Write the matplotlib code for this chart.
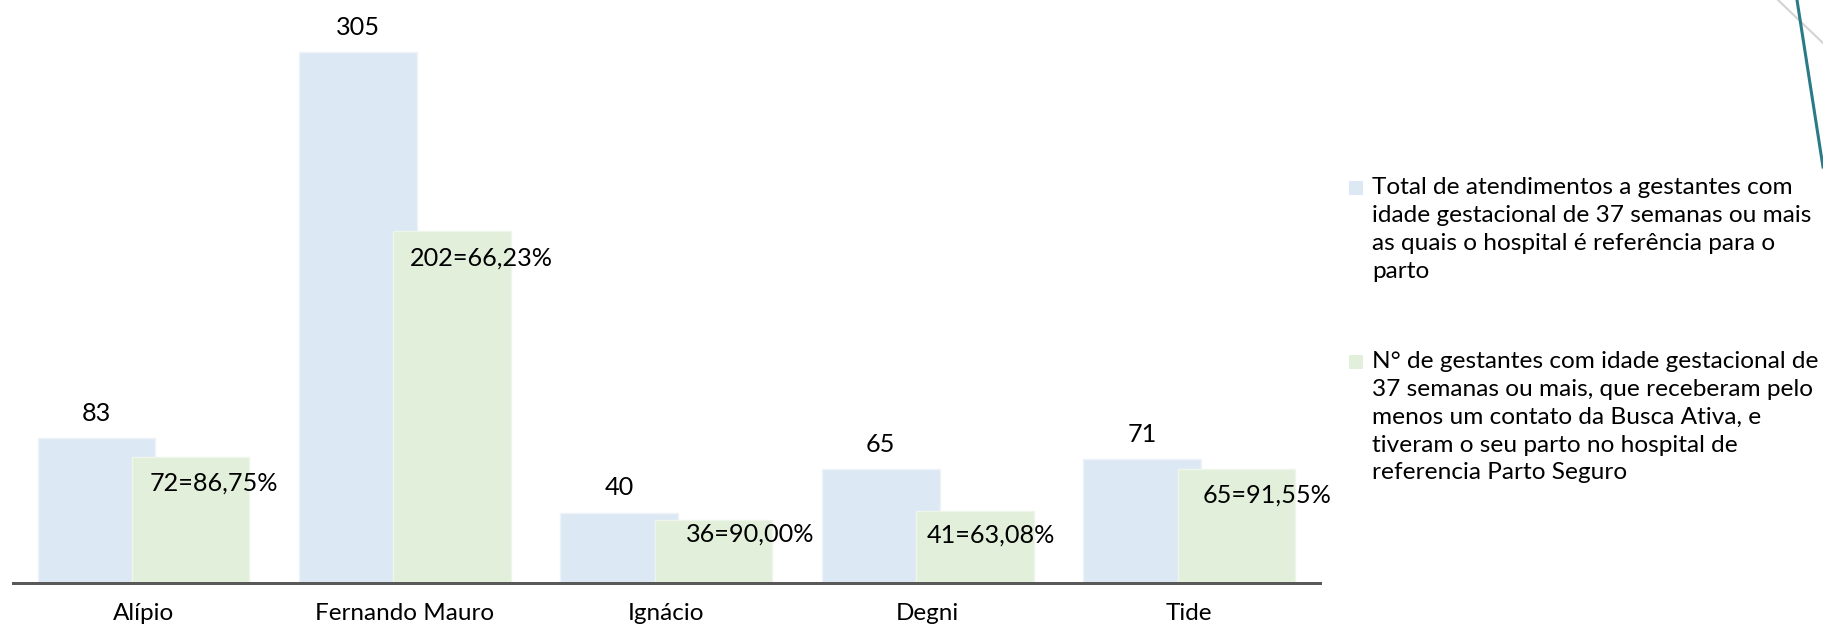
import matplotlib
matplotlib.use("Agg")
import matplotlib.pyplot as plt
import numpy as np
from matplotlib.patches import Rectangle
from matplotlib.lines import Line2D

# ---- data ----
categories = ["Alípio", "Fernando Mauro", "Ignácio", "Degni", "Tide"]
total_atendimentos = [83, 305, 40, 65, 71]
gestantes_busca_ativa = [72, 202, 36, 41, 65]
legend_labels = [
    ["Total de atendimentos a gestantes com",
     "idade gestacional de 37 semanas ou mais",
     "as quais o hospital é referência para o",
     "parto"],
    ["N° de gestantes com idade gestacional de",
     "37 semanas ou mais, que receberam pelo",
     "menos um contato da Busca Ativa, e",
     "tiveram o seu parto no hospital de",
     "referencia Parto Seguro"],
]

# ---- style ----
W, H = 1823, 626
DPI = 100
blue = "#DDE8F5"
green = "#E2EFDA"
axis_col = "#595959"
font = "Lato"
fs = 17.5
val_fs = 18.2
pt = 72.0 / DPI  # points per pixel

# nudges (pixels) for the green labels: (dx from bar left, dy below bar top)
green_nudges = [(18, 26), (17, 27), (31, 14), (11, 24), (25, 26)]

fig = plt.figure(figsize=(W / DPI, H / DPI), dpi=DPI)
left_px, right_px = 12.75, 1320
bottom_px = 626 - 582.5
ax = fig.add_axes([left_px / W, bottom_px / H, (right_px - left_px) / W, 1 - bottom_px / H])

x = np.arange(len(categories))
off = 0.18
bw = 0.45
b1 = ax.bar(x - off, total_atendimentos, bw, color=blue, edgecolor="#EEF3FA", linewidth=1, zorder=2)
b2 = ax.bar(x + off, gestantes_busca_ativa, bw, color=green, edgecolor="#EEF5EA", linewidth=1, zorder=3)

ax.set_xlim(-0.5, len(categories) - 0.5)
ax.set_ylim(0, 335)
ax.set_yticks([])
ax.set_xticks(x)
ax.set_xticklabels(categories, fontfamily=font, fontsize=fs)
ax.tick_params(axis="x", length=0, pad=15)
for s in ["top", "left", "right"]:
    ax.spines[s].set_visible(False)
ax.spines["bottom"].set_color(axis_col)
ax.spines["bottom"].set_linewidth(3 * pt)
ax.spines["bottom"].set_zorder(5)

for rect, v in zip(b1, total_atendimentos):
    ax.annotate(f"{v}", (rect.get_x() + rect.get_width() / 2, rect.get_height()),
                xytext=(0, 25 * pt), textcoords="offset points",
                ha="center", va="center", fontfamily=font, fontsize=val_fs, zorder=6)

for rect, g, t, (dx, dy) in zip(b2, gestantes_busca_ativa, total_atendimentos, green_nudges):
    lab = f"{g}={g / t * 100:.2f}%".replace(".", ",")
    ax.annotate(lab, (rect.get_x(), rect.get_height()),
                xytext=(dx * pt, -dy * pt), textcoords="offset points",
                ha="left", va="center", fontfamily=font, fontsize=val_fs, zorder=6)

# ---- legend (manual) ----
leg_fs = 17.6
line_h = 27.7
starts = [188, 362]
for lines, y0, col in zip(legend_labels, starts, [blue, green]):
    fig.patches.append(Rectangle((1349 / W, 1 - (y0 + 7) / H), 14 / W, 14 / H,
                                 transform=fig.transFigure, facecolor=col, edgecolor="none"))
    for k, ln in enumerate(lines):
        fig.text(1372 / W, 1 - (y0 + k * line_h) / H, ln, ha="left", va="center",
                 fontfamily=font, fontsize=leg_fs)

# ---- decorative lines top right ----
fig.add_artist(Line2D([1778 / W, 1823 / W], [1, 1 - 43 / H], transform=fig.transFigure,
                      color="#D3D3D3", linewidth=1.5))
fig.add_artist(Line2D([1797 / W, 1823 / W], [1, 1 - 167 / H], transform=fig.transFigure,
                      color="#2A7A87", linewidth=2.2))

fig.savefig("out.png", dpi=DPI)
